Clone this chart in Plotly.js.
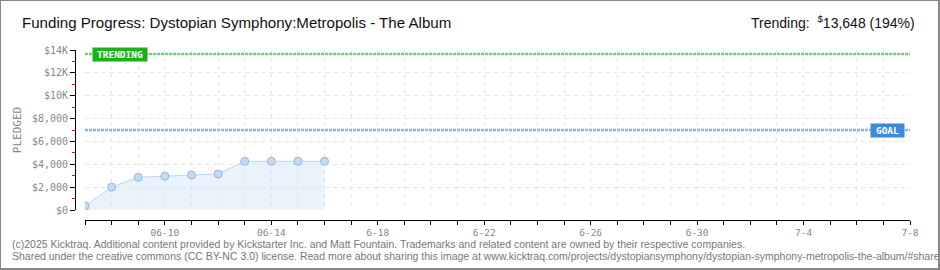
<!DOCTYPE html>
<html><head><meta charset="utf-8">
<script src="https://cdn.plot.ly/plotly-3.0.1.min.js"></script>
<style>
html,body{margin:0;padding:0;background:#fff;}
#wrap{position:relative;width:940px;height:270px;}
#chart{width:940px;height:270px;}
#frame{position:absolute;left:0;top:0;width:940px;height:270px;box-sizing:border-box;border-top:1px solid #888;border-left:1px solid #888;border-right:2px solid #888;border-bottom:2px solid #888;pointer-events:none;}
</style></head>
<body><div id="wrap"><div id="chart"></div><div id="frame"></div></div>
<script>
const dates = ['2025-06-07','2025-06-08','2025-06-09','2025-06-10','2025-06-11','2025-06-12','2025-06-13','2025-06-14','2025-06-15','2025-06-16'];
const pledged = [350, 2000, 2860, 2950, 3060, 3150, 4260, 4260, 4260, 4260];
const goal = 7000;
const trending = 13648;
const xStart = '2025-06-07';
const xEnd = '2025-07-08';
const tickDates = ['2025-06-10','2025-06-14','2025-06-18','2025-06-22','2025-06-26','2025-06-30','2025-07-04','2025-07-08'];
const tickLabels = ['06-10','06-14','6-18','6-22','6-26','6-30','7-4','7-8'];
const yTicks = [0,2000,4000,6000,8000,10000,12000,14000];
const yLabels = ['$0','$2,000','$4,000','$6,000','$8,000','$10K','$12K','$14K'];
const titleText = 'Funding Progress: Dystopian Symphony:Metropolis - The Album';
const trendText = 'Trending:  <sup>$</sup>13,648 (194%)';
const yTitle = 'PLEDGED';
const footer1 = '(c)2025 Kicktraq. Additional content provided by Kickstarter Inc. and Matt Fountain. Trademarks and related content are owned by their respective companies.';
const footer2 = 'Shared under the creative commons (CC BY-NC 3.0) license. Read more about sharing this image at www.kicktraq.com/projects/dystopiansymphony/dystopian-symphony-metropolis-the-album/#share';

const pixFont = 'DejaVu Sans Mono, monospace';
const gridCol = '#e6e6e6';
const traces = [
  {x:[xStart,xEnd], y:[trending,trending], mode:'lines', line:{color:'#74d074', width:2.5, dash:'3px,1px'}, hoverinfo:'skip'},
  {x:[xStart,xEnd], y:[goal,goal], mode:'lines', line:{color:'#90b4dc', width:2.5, dash:'3px,1px'}, hoverinfo:'skip'},
  {x:dates, y:pledged, mode:'lines+markers', fill:'tozeroy', fillcolor:'rgba(214,230,248,0.5)',
   line:{color:'#bcd6f2', width:1}, marker:{size:8, color:'#c4dbf5', line:{color:'#92b6de', width:1}}}
];
const layout = {
  width:940, height:270, showlegend:false,
  paper_bgcolor:'#fff', plot_bgcolor:'#fff',
  margin:{l:75, r:30, t:50, b:50},
  xaxis:{type:'date', range:[xStart,xEnd], domain:[0.012,1], anchor:'free', position:0,
    showline:true, linecolor:'#000', linewidth:1,
    tickmode:'array', tickvals:tickDates, ticktext:tickLabels,
    ticks:'outside', ticklen:4, tickcolor:'#000',
    showgrid:true, gridcolor:gridCol, griddash:'4px,4px', gridwidth:1,
    minor:{dtick:86400000, tick0:xStart, ticks:'outside', ticklen:4, tickcolor:'#000', showgrid:true, gridcolor:gridCol, griddash:'4px,4px'},
    tickfont:{family:pixFont, size:9.5, color:'#888'}, zeroline:false, fixedrange:true},
  yaxis:{range:[0,14000], domain:[0.0588,1], anchor:'free', position:0,
    showline:true, linecolor:'#000', linewidth:1,
    tickmode:'array', tickvals:yTicks, ticktext:yLabels,
    ticks:'outside', ticklen:5, tickcolor:'#000',
    minor:{dtick:1000, tick0:1000, ticks:'outside', ticklen:3, tickcolor:'#e00', showgrid:false},
    showgrid:true, gridcolor:gridCol, griddash:'4px,4px',
    tickfont:{family:pixFont, size:10, color:'#888'}, zeroline:false,
    title:{text:yTitle, font:{family:pixFont, size:11, color:'#888'}, standoff:7}},
  annotations:[
    {xref:'paper', yref:'paper', x:-0.066, y:1.16, xanchor:'left', yanchor:'middle', showarrow:false,
     text:titleText, font:{family:'Liberation Sans Narrow, sans-serif', size:15.1, color:'#111'}},
    {xref:'paper', yref:'paper', x:1.008, y:1.165, xanchor:'right', yanchor:'middle', showarrow:false,
     text:trendText, font:{family:'Liberation Sans Narrow, sans-serif', size:14, color:'#111'}},
    {xref:'paper', yref:'y', x:0.054, y:trending, xanchor:'center', yanchor:'middle', showarrow:false, text:'<b>TRENDING</b>',
     bgcolor:'#19b319', width:52, height:11, borderpad:1, font:{family:pixFont, size:9.5, color:'#fff'}},
    {xref:'paper', yref:'y', x:0.973, y:goal, xanchor:'center', yanchor:'middle', showarrow:false, text:'<b>GOAL</b>',
     bgcolor:'#3f8ad8', width:31, height:11, borderpad:1, font:{family:pixFont, size:9.5, color:'#fff'}},
    {xref:'paper', yref:'paper', x:-0.078, y:-0.14, xanchor:'left', yanchor:'middle', showarrow:false,
     text:footer1, font:{family:'Liberation Sans, sans-serif', size:10.5, color:'#777'}},
    {xref:'paper', yref:'paper', x:-0.078, y:-0.212, xanchor:'left', yanchor:'middle', showarrow:false,
     text:footer2, font:{family:'Liberation Sans, sans-serif', size:10.5, color:'#777'}}
  ]
};
Plotly.newPlot('chart', traces, layout, {displayModeBar:false, staticPlot:true});
</script></body></html>
